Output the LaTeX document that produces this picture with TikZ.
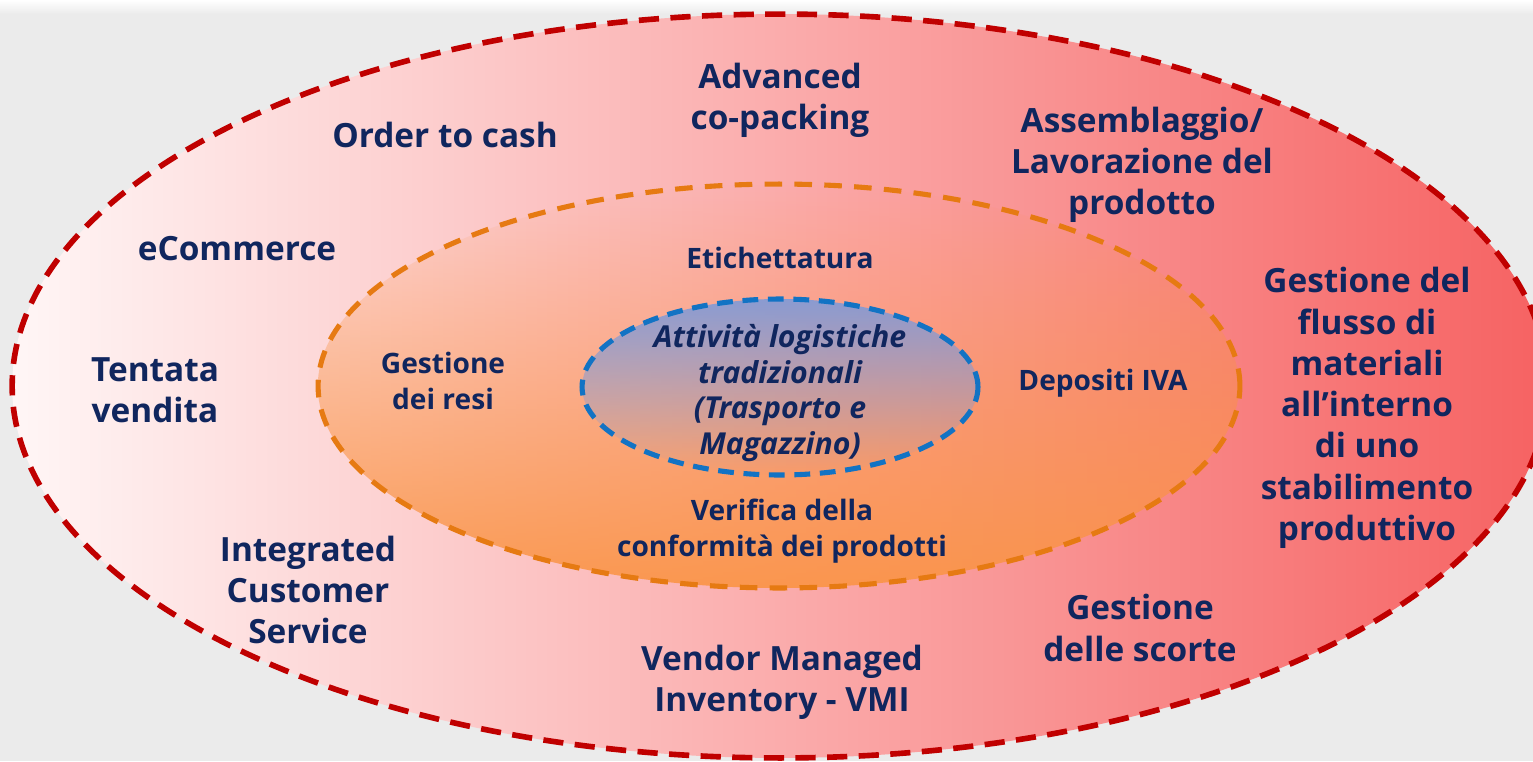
\documentclass[tikz,border=0pt]{standalone}
\usepackage{fontspec}
\setmainfont{Open Sans}
\usetikzlibrary{fadings}
\definecolor{navy}{HTML}{10265E}
\definecolor{bggray}{HTML}{EBEBEB}
\definecolor{outerred}{HTML}{C00000}
\definecolor{innerorange}{HTML}{E67A12}
\definecolor{coreblue}{HTML}{1273C4}
\definecolor{pinkL}{HTML}{FFF6F6}
\definecolor{pinkM}{HTML}{F99A9A}
\definecolor{pinkR}{HTML}{F66262}
\definecolor{orangefill}{HTML}{FA9444}
\definecolor{bluefill}{HTML}{7E9AD8}
\tikzfading[name=fadeup, top color=transparent!100, bottom color=transparent!10]
\tikzfading[name=fadedown, top color=transparent!10, bottom color=transparent!100]
\tikzset{
  outerline/.style={draw=outerred, line width=3.2pt, dash pattern=on 11.5pt off 6.5pt},
  midline/.style={draw=innerorange, line width=2.9pt, dash pattern=on 10pt off 7pt},
  coreline/.style={draw=coreblue, line width=2.9pt, dash pattern=on 9pt off 5.5pt},
  lbl/.style={text=navy, font=\fontsize{19}{23.5}\selectfont\bfseries, align=center, inner sep=0pt},
  ilbl/.style={text=navy, font=\fontsize{16}{20.4}\selectfont\bfseries, align=center, inner sep=0pt},
  clbl/.style={text=navy, font=\fontsize{17.2}{20.2}\selectfont\bfseries\itshape, align=center, inner sep=0pt}
}
\begin{document}
\begin{tikzpicture}[x=0.02cm,y=-0.02cm]
\useasboundingbox (0,0) rectangle (1533,761);
\fill[bggray] (0,0) rectangle (1533,761);
\shade[top color=white, bottom color=bggray] (0,0) rectangle (1533,14);
\begin{scope}
\clip (0,0) rectangle (1533,761);
\shade[left color=pinkL, middle color=pinkM, right color=pinkR] (780,386) ellipse [x radius=15.36cm, y radius=7.44cm];
\draw[outerline] (780,386) ellipse [x radius=15.36cm, y radius=7.44cm];
\end{scope}
\fill[orangefill, path fading=fadeup] (779,386) ellipse [x radius=9.22cm, y radius=4.04cm];
\draw[midline] (779,386) ellipse [x radius=9.22cm, y radius=4.04cm];
\fill[bluefill, path fading=fadedown] (780,387) ellipse [x radius=3.96cm, y radius=1.76cm];
\draw[coreline] (780,387) ellipse [x radius=3.96cm, y radius=1.76cm];

\node[lbl] (otc) at (445,135) {Order to cash};
\node[lbl] (adv) at (780,100) {Advanced\\co-packing};
\node[lbl] (ass) at (1142,165) {Assemblaggio/\\Lavorazione del\\prodotto};
\node[lbl] (ecom) at (237,249) {eCommerce};
\node[lbl] (tent) at (155,390) {Tentata\\vendita};
\node[lbl] (flus) at (1367,408) {Gestione del\\flusso di\\materiali\\all’interno\\di uno\\stabilimento\\produttivo};
\node[lbl] (ics) at (308,590) {Integrated\\Customer\\Service};
\node[lbl] (vmi) at (782,682) {Vendor Managed\\Inventory - VMI};
\node[lbl] (sco) at (1140,628) {Gestione\\delle scorte};

\node[ilbl] (eti) at (780,258) {Etichettatura};
\node[ilbl] (resi) at (443,381) {Gestione\\dei resi};
\node[ilbl] (iva) at (1103,383) {Depositi IVA};
\node[ilbl] (ver) at (782,531) {Verifica della\\conformità dei prodotti};

\node[clbl] (core) at (780,393) {Attività logistiche\\tradizionali\\(Trasporto e\\Magazzino)};
\end{tikzpicture}
\end{document}
